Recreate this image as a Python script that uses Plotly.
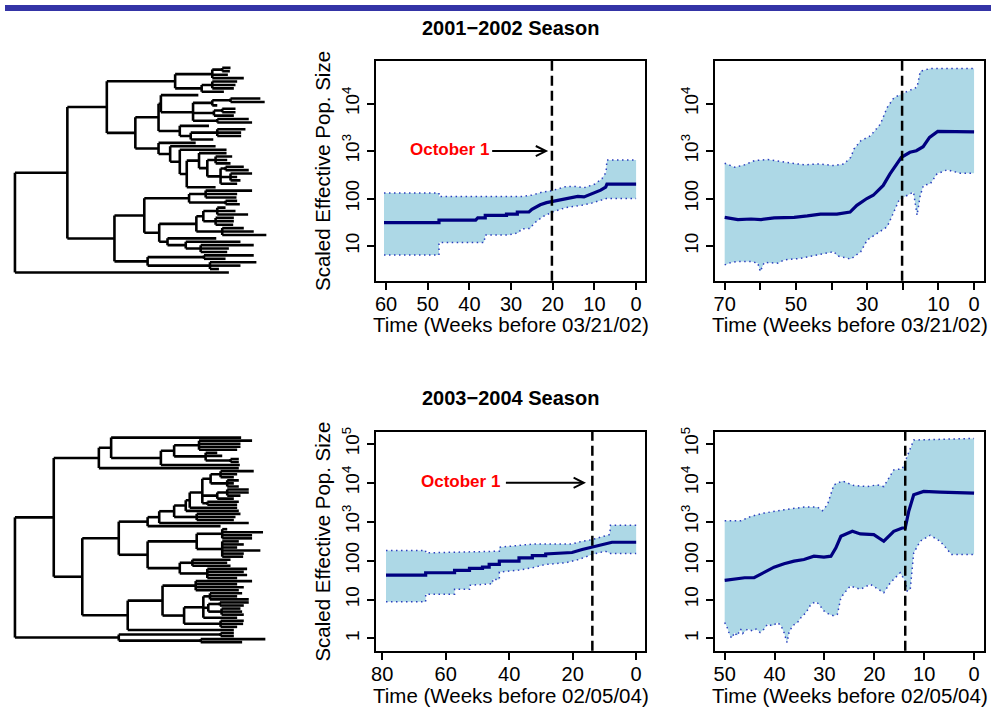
import plotly.graph_objects as go

W, H = 991, 709
FONT = "Liberation Sans, Arial, Helvetica, sans-serif"
NAVY = "#000080"
BAND = "#ADD8E6"
DOT = "#2b3fbf"

# ---------------- data ----------------
# Panel A: 2001-2002, skyline (weeks before 03/21/02)
A_med_t = [60.5, 47.3, 47.3, 38.5, 38.0, 36.2, 36.2, 31.1, 31.1, 28.5, 28.5, 25.7, 25.0, 24.0, 23.0, 21.5, 20.0, 18.0, 16.0, 14.0, 12.5, 10.5, 8.5, 7.3, 7.0, 0]
A_med_v = [31, 31, 35, 35, 39, 39, 44, 44, 47, 47, 52, 52, 59, 67, 74, 82, 87, 95, 102, 111, 108, 126, 150, 174, 202, 202]
A_up_t = [60.5, 47.3, 47.3, 27.0, 25.0, 22.5, 20.0, 17.0, 14.5, 12.5, 10.0, 8.2, 7.2, 7.0, 0]
A_up_v = [131, 131, 111, 111, 118, 137, 148, 178, 180, 169, 200, 261, 360, 645, 645]
A_lo_t = [60.5, 47.3, 47.3, 36.5, 36.2, 30.7, 28.2, 27.5, 25.4, 24.5, 22.5, 20.1, 17.0, 13.0, 10.5, 7.1, 0]
A_lo_v = [6.5, 6.5, 11.8, 11.8, 17, 17, 19.1, 23, 23.5, 30, 41, 52, 64, 72, 81, 100, 100]

# Panel B: 2001-2002, smooth estimate
B_med_t = [70.0, 66.3, 62.6, 59.8, 56.1, 50.5, 46.8, 43.1, 38.5, 34.8, 32.9, 30.1, 28.3, 25.5, 23.6, 21.8, 20.4, 18.0, 16.2, 14.3, 12.5, 10.2, 7.0, 0]
B_med_v = [40, 36, 37, 36, 39, 40, 43, 47, 47, 52, 72, 100, 117, 189, 331, 537, 741, 944, 1019, 1233, 1940, 2594, 2600, 2550]
B_up_t = [70.0, 67.2, 64.4, 61.6, 57.9, 53.3, 47.7, 43.9, 39.3, 36.5, 34.6, 33.7, 31.8, 29.1, 26.3, 24.4, 22.5, 20.2, 17.9, 16.0, 15.1, 12.3, 0]
B_up_v = [555, 458, 512, 631, 661, 583, 512, 537, 495, 537, 741, 1107, 1652, 2090, 3690, 8240, 13300, 16200, 19000, 22200, 47900, 55000, 55000]
B_lo_t = [70.0, 68.2, 66.3, 62.6, 60.7, 60.0, 58.9, 55.1, 53.3, 48.6, 43.9, 39.3, 38.4, 34.6, 31.8, 30.0, 27.2, 24.4, 22.5, 21.1, 19.7, 17.0, 16.0, 15.1, 14.2, 12.3, 10.4, 7.6, 3.9, 0]
B_lo_v = [4.0, 4.5, 4.7, 4.7, 4.35, 2.9, 4.5, 4.35, 5.1, 5.5, 6.5, 7.6, 6.2, 5.3, 7.6, 13.4, 18.4, 25.4, 52.5, 91.5, 107, 137, 44.6, 117, 189, 204, 331, 402, 343, 343]

# Panel C: 2003-2004, skyline (weeks before 02/05/04)
C_med_t = [78.8, 66.3, 66.3, 57.2, 57.2, 52.5, 52.5, 48.4, 48.4, 46.3, 46.3, 43.1, 43.1, 36.9, 36.9, 32.7, 32.7, 28.5, 28.5, 24.3, 20.2, 17.0, 13.9, 7.6, 0]
C_med_v = [42.6, 42.6, 48.8, 48.8, 56, 56, 63, 63, 68, 68, 80, 80, 97, 97, 118, 118, 135, 135, 149, 155, 162, 193, 225, 297, 297]
C_up_t = [78.8, 66.3, 66.3, 46.3, 43.1, 43.1, 36.9, 32.0, 20.2, 17.0, 13.9, 8.3, 8.1, 0]
C_up_v = [182, 182, 158, 170, 175, 221, 244, 269, 269, 315, 347, 468, 809, 809]
C_lo_t = [78.8, 66.3, 66.3, 57.2, 57.2, 52.5, 52.5, 47.3, 45.2, 45.2, 43.1, 43.1, 36.9, 32.7, 28.5, 22.2, 18.1, 13.9, 9.7, 8.1, 0]
C_lo_v = [8.8, 8.8, 13.7, 13.7, 18.3, 18.3, 23.2, 25.5, 25.5, 33, 33, 50.8, 57.2, 65.5, 80, 88, 107, 144, 175, 153, 153]

# Panel D: 2003-2004, smooth estimate
D_med_t = [50.0, 48.7, 46.0, 44.1, 42.1, 40.1, 38.1, 36.1, 34.1, 32.1, 30.1, 28.7, 27.7, 26.7, 24.4, 22.8, 20.1, 18.1, 16.1, 14.4, 13.8, 13.1, 12.1, 10.1, 6.8, 0]
D_med_v = [31.1, 33, 36.3, 36.3, 48.8, 68.2, 83, 97, 107, 130, 123, 130, 213, 423, 569, 485, 468, 315, 569, 690, 690, 1845, 4930, 5990, 5800, 5430]
D_up_t = [50.0, 46.7, 44.7, 42.1, 38.1, 34.1, 31.4, 30.4, 29.4, 28.1, 26.4, 24.1, 21.4, 19.4, 18.1, 16.1, 14.4, 13.4, 12.1, 0]
D_up_v = [1065, 1065, 1374, 1670, 2030, 2377, 2377, 1920, 2730, 8870, 11200, 8510, 8030, 8870, 8030, 21400, 23000, 47100, 126000, 138000]
D_lo_t = [50.0, 49.5, 49.0, 48.6, 48.0, 47.5, 46.8, 46.4, 45.4, 44.4, 43.7, 42.9, 42.1, 41.4, 40.4, 39.4, 38.7, 38.1, 37.5, 37.1,
          36.4, 35.4, 34.7, 33.7, 32.7, 31.7, 31.1, 30.1, 29.1, 28.1, 27.4, 26.7, 25.4, 24.8, 22.8, 20.8, 18.1, 16.8, 14.8, 13.8,
          13.4, 12.8, 12.1, 10.8, 8.8, 6.8, 4.5, 0]
D_lo_v = [2.57, 1.91, 1.24, 1.02, 1.42, 1.17, 1.74, 1.34, 1.74, 1.57, 1.74, 1.42, 1.74, 2.33, 2.11, 2.57, 2.11, 1.42, 0.79, 1.42,
          2.11, 2.57, 3.44, 4.62, 7.6, 8.8, 7.6, 5.1, 4.2, 3.8, 4.2, 11.2, 18.3, 22.3, 18.3, 24.6, 15, 27, 48.8, 30,
          16.6, 18, 158, 315, 449, 315, 144, 144]

OCT1_0102 = 20.2
OCT1_0304 = 13.8

A_xticks = [60, 50, 40, 30, 20, 10, 0]
A_xlabels = ["60", "50", "40", "30", "20", "10", "0"]
B_xticks = [70, 60, 50, 40, 30, 20, 10, 0]
B_xlabels = ["70", "", "50", "", "30", "", "10", "0"]
C_xticks = [80, 60, 40, 20, 0]
C_xlabels = ["80", "60", "40", "20", "0"]
D_xticks = [50, 40, 30, 20, 10, 0]
D_xlabels = ["50", "40", "30", "20", "10", "0"]
top_yticks = [10, 100, 1000, 10000]
top_ylabels = ["10", "100", "10<sup>3</sup>", "10<sup>4</sup>"]
bot_yticks = [1, 10, 100, 1000, 10000, 100000]
bot_ylabels = ["1", "10", "100", "10<sup>3</sup>", "10<sup>4</sup>", "10<sup>5</sup>"]

# Phylogenies (Newick pieces, branch lengths in arbitrary units)
T1_B1 = "(((:25,:23):30,:47,:95):112,((:75,:70,:65):32,:67):80)"
T1_D = "(((:90,:103):55,:15):58,((:40,:40):25,:60):63,(:95,:105):73)"
T1_E = "(:88,((:85,:72,:72):80,:68):33)"
T1_N610 = "((:50,:35,:45):25,((:55,:70):15,(:65,:20,:30):30,:50):40)"
T1_C1a = "((:140,:95,:93):50,(:35,:43):110)"
T1_N577 = "(((:25,:55,:93):42,(:55,:55,:53):37):21,(:65,:95,:133):78)"
T1_N490 = "(:147,(:165,(:160,:85,:80):45):55)"
T1_C2 = "((:150,:65):170,(:140,:92,:27):188)"
T1_B2a = "((:113,%s:97):7,%s:64)" % (T1_D, T1_E)
T1_B2b = "(:112,(:137,(:141,((:83,%s:25):37,:87):21):29):35)" % T1_N610
T1_C = "((%s:135,(%s:112,%s:25):45):90,%s:100)" % (T1_C1a, T1_N577, T1_N490, T1_C2)
TREE_TOP = "(((%s:206,(%s:70,%s:70):86):119,%s:142):158,:645);" % (T1_B1, T1_B2a, T1_B2b, T1_C)

T2_N470 = "(((:160,:125,:125,:115):75,(:35,:50,(:25,:25):75):95):40,:238)"
T2_P1 = "((:392,%s:150):37,:422)" % T2_N470
T2_N595 = "(((:100,:50,:40):30,(:35,:20,:35):50):25,((:65,:65,:40):30,:50):45,(:95,:90):15)"
T2_N465 = "((((%s:38,:143):12,:160):35,(:132,:117,:112):68):45,:270)" % T2_N595
T2_N430b = "(((:15,:123,:90,:90):77,(:50,:65,:45,:115,:65,:63):77):148,((:115,:105,:115):38,(:120,:110,:120,:90):83):97)"
T2_N598 = "((:97,:82,:117):20,((:87,:72):35,(:57,:62,:67):40):15,:102)"
T2_P2b = "(((:170,:125,:145,:130):100,(%s:58,(:70,:68,:50):110):65):105,:320)" % T2_N598
T2_Q = "((:40,:40):307,(:195,:125):247)"
TREE_BOT = "((%s:136,(((%s:35,:220):87,%s:87):110,%s:137):86):117,%s:313);" % (
    T2_P1, T2_N465, T2_N430b, T2_P2b, T2_Q)


# ---------------- helpers ----------------
def parse_newick(s):
    pos = [0]

    def node():
        kids = []
        if s[pos[0]] == '(':
            pos[0] += 1
            while True:
                kids.append(node())
                c = s[pos[0]]
                pos[0] += 1
                if c == ')':
                    break
        length = 0.0
        if pos[0] < len(s) and s[pos[0]] == ':':
            pos[0] += 1
            st = pos[0]
            while s[pos[0]] not in ',);':
                pos[0] += 1
            length = float(s[st:pos[0]])
        return {'kids': kids, 'len': length}

    return node()


def tree_segments(root):
    xs, ys = [], []
    counter = [0]

    def walk(nd, parent_x, is_root):
        x = parent_x + nd['len']
        if not nd['kids']:
            y = counter[0]
            counter[0] += 1
        else:
            cy = [walk(k, x, False) for k in nd['kids']]
            y = sum(cy) / len(cy)
            xs.extend([x, x, None])
            ys.extend([min(cy), max(cy), None])
        if not is_root:
            xs.extend([parent_x, x, None])
            ys.extend([y, y, None])
        return y

    walk(root, 0.0, True)
    return xs, ys, counter[0]


def pxx(x):
    return x / W


def pxy(y):
    return 1 - y / H


fig = go.Figure()


def add_panel(n, up_t, up_v, lo_t, lo_v, md_t, md_v, oct1):
    xa = 'x' if n == 1 else 'x%d' % n
    ya = 'y' if n == 1 else 'y%d' % n
    fig.add_trace(go.Scatter(x=list(up_t) + list(lo_t)[::-1], y=list(up_v) + list(lo_v)[::-1],
                             fill='toself', fillcolor=BAND, mode='none', xaxis=xa, yaxis=ya,
                             hoverinfo='skip', showlegend=False))
    for t, v in ((up_t, up_v), (lo_t, lo_v)):
        fig.add_trace(go.Scatter(x=t, y=v, mode='lines', xaxis=xa, yaxis=ya, showlegend=False,
                                 line=dict(color=DOT, width=1.5, dash='1.5px,3.5px')))
    fig.add_trace(go.Scatter(x=md_t, y=md_v, mode='lines', xaxis=xa, yaxis=ya, showlegend=False,
                             line=dict(color=NAVY, width=3.2)))
    fig.add_shape(type='line', xref=xa, yref=ya + ' domain', x0=oct1, x1=oct1, y0=0, y1=1,
                  line=dict(color='black', width=2.5, dash='10px,5px'))


add_panel(1, A_up_t, A_up_v, A_lo_t, A_lo_v, A_med_t, A_med_v, OCT1_0102)
add_panel(2, B_up_t, B_up_v, B_lo_t, B_lo_v, B_med_t, B_med_v, OCT1_0102)
add_panel(3, C_up_t, C_up_v, C_lo_t, C_lo_v, C_med_t, C_med_v, OCT1_0304)
add_panel(4, D_up_t, D_up_v, D_lo_t, D_lo_v, D_med_t, D_med_v, OCT1_0304)

# trees
ROOT_PX = 10.0
UNIT_PX = 1.0 / 3.0
for n, nwk, first_px, last_px, dom in ((5, TREE_TOP, 190 / 3, 808 / 3, (40, 290)),
                                        (6, TREE_BOT, 400 + 107 / 3, 400 + 725 / 3, (405, 695))):
    tx, ty, nleaf = tree_segments(parse_newick(nwk))
    fig.add_trace(go.Scatter(x=tx, y=ty, mode='lines', xaxis='x%d' % n, yaxis='y%d' % n,
                             line=dict(color='black', width=2.6), showlegend=False, hoverinfo='skip'))
    sp = (last_px - first_px) / (nleaf - 1)
    fig.layout['xaxis%d' % n] = dict(domain=[0, pxx(300)], range=[(0 - ROOT_PX) / UNIT_PX, (300 - ROOT_PX) / UNIT_PX],
                                     visible=False, anchor='y%d' % n)
    fig.layout['yaxis%d' % n] = dict(domain=[pxy(dom[1]), pxy(dom[0])],
                                     range=[(dom[1] - first_px) / sp, (dom[0] - first_px) / sp],
                                     visible=False, anchor='x%d' % n)


def xax(dom, rng, tv, tt, anchor):
    return dict(domain=[pxx(dom[0]), pxx(dom[1])], range=rng, tickmode='array', tickvals=tv, ticktext=tt,
                anchor=anchor, showline=True, linecolor='black', linewidth=1.6, mirror=True,
                ticks='outside', ticklen=7, tickwidth=1.5, tickcolor='black', showgrid=False,
                zeroline=False, tickfont=dict(family=FONT, size=20, color='black'), ticklabelstandoff=-3)


def yax(dom, rng, tv, tt, anchor):
    return dict(domain=[pxy(dom[1]), pxy(dom[0])], type='log', range=rng, tickmode='array', tickvals=tv,
                ticktext=tt, anchor=anchor, showline=True, linecolor='black', linewidth=1.6, mirror=True,
                ticks='outside', ticklen=7, tickwidth=1.5, tickcolor='black', showgrid=False,
                zeroline=False, tickangle=-90, tickfont=dict(family=FONT, size=19, color='black'))


fig.update_layout(
    xaxis=xax((372.7, 643.3), [62.46, -2.15], A_xticks, A_xlabels, 'y'),
    yaxis=yax((56, 277.7), [0.268, 4.906], top_yticks, top_ylabels, 'x'),
    xaxis2=xax((713.3, 984.3), [72.8, -2.88], B_xticks, B_xlabels, 'y2'),
    yaxis2=yax((56, 277.7), [0.268, 4.906], top_yticks, top_ylabels, 'x2'),
    xaxis3=xax((372.7, 643.3), [82.0, -2.8], C_xticks, C_xlabels, 'y3'),
    yaxis3=yax((430, 650.3), [-0.315, 5.307], bot_yticks, bot_ylabels, 'x3'),
    xaxis4=xax((713.3, 984.3), [52.0, -2.06], D_xticks, D_xlabels, 'y4'),
    yaxis4=yax((430, 650.3), [-0.315, 5.307], bot_yticks, bot_ylabels, 'x4'),
)

ann = []
# titles
for txt, y in (("2001−2002 Season", 23), ("2003−2004 Season", 396)):
    ann.append(dict(text="<b>%s</b>" % txt, x=pxx(508.3), y=pxy(y), xref='paper', yref='paper',
                    showarrow=False, font=dict(family=FONT, size=20, color='black'),
                    xanchor='center', yanchor='middle'))
# x titles
for cx, cy, txt in ((508.3, 321.5, "Time (Weeks before 03/21/02)"), (849, 321.5, "Time (Weeks before 03/21/02)"),
                    (508.3, 695, "Time (Weeks before 02/05/04)"), (849, 695, "Time (Weeks before 02/05/04)")):
    ann.append(dict(text=txt, x=pxx(cx), y=pxy(cy), xref='paper', yref='paper', showarrow=False,
                    font=dict(family=FONT, size=20.5, color='black'), xanchor='center', yanchor='middle'))
# y titles
for cy in (166.8, 540):
    ann.append(dict(text="Scaled Effective Pop. Size", x=pxx(319), y=pxy(cy), xref='paper', yref='paper',
                    showarrow=False, textangle=-90, font=dict(family=FONT, size=20.5, color='black'),
                    xanchor='center', yanchor='middle'))
# October 1 labels and arrows
for xa, ya, tx, ty, a0, a1 in (('x', 'y', 44.8, 3, 34.9, 21.1), ('x3', 'y3', 55.3, 4, 41.5, 15.8)):
    ann.append(dict(text="<b>October 1</b>", x=tx, y=ty + 0.04, xref=xa, yref=ya, showarrow=False,
                    font=dict(family=FONT, size=17, color='#ff0000'), xanchor='center', yanchor='middle'))
    ann.append(dict(text="", x=a1, y=ty, ax=a0, ay=ty, xref=xa, yref=ya, axref=xa, ayref=ya,
                    showarrow=True, arrowhead=5, arrowwidth=2, arrowsize=1, arrowcolor='black', standoff=0))

fig.update_layout(annotations=ann)

# header bar
fig.add_shape(type='rect', xref='paper', yref='paper', x0=0, x1=1, y0=pxy(6), y1=1,
              fillcolor='#3434a6', line=dict(width=0), layer='above')

fig.update_layout(width=W, height=H, margin=dict(l=0, r=0, t=0, b=0), paper_bgcolor='white',
                  plot_bgcolor='white', showlegend=False)

fig.write_html("out.html")
